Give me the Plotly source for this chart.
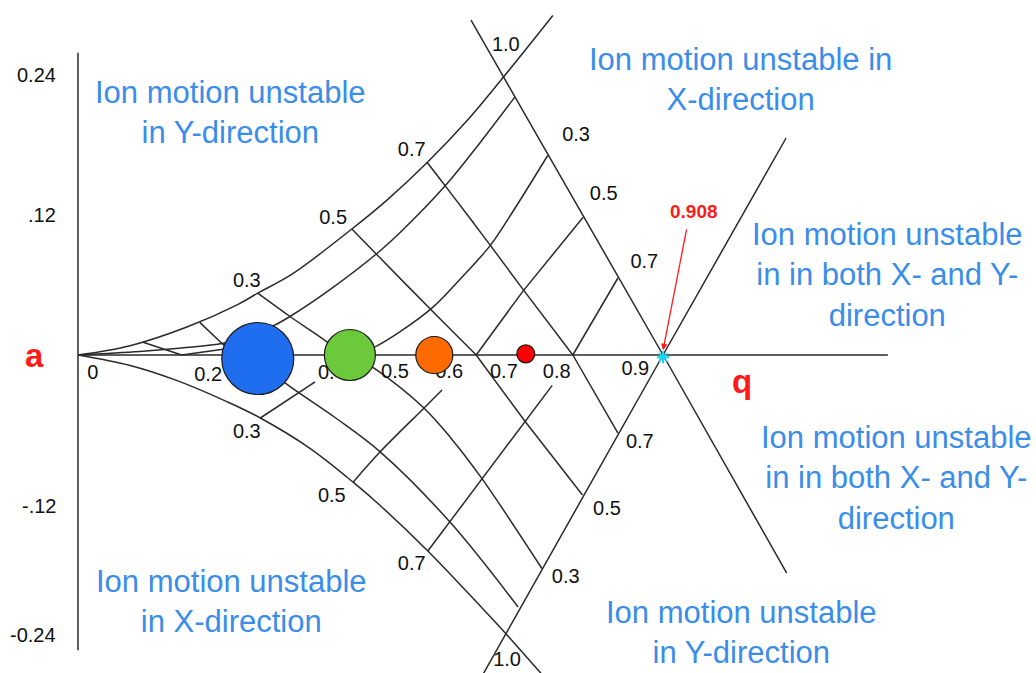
import plotly.graph_objects as go

# ---------------- data (q, a) ----------------
# outer stability boundaries
outer_up_q = [0, 0.081, 0.169, 0.247, 0.279, 0.334, 0.425, 0.480, 0.542, 0.604, 0.660, 0.737]
outer_up_a = [0, 0.008, 0.024, 0.043, 0.053, 0.070, 0.108, 0.133, 0.165, 0.201, 0.238, 0.291]
outer_lo_q = [0, 0.081, 0.154, 0.231, 0.283, 0.360, 0.427, 0.469, 0.543, 0.624, 0.661, 0.730]
outer_lo_a = [0, -0.009, -0.022, -0.040, -0.054, -0.080, -0.109, -0.129, -0.168, -0.215, -0.237, -0.280]
# the two straight beta = 1.0 boundaries crossing at q = 0.908
edge1_q = [0.610, 0.908, 1.100]
edge1_a = [0.287, 0.0, -0.187]
edge2_q = [1.099, 0.908, 0.615]
edge2_a = [0.186, 0.0, -0.287]

# upper-half iso-lines, family rising to the right
upA1_q = [0, 0.096, 0.161, 0.225, 0.267, 0.303, 0.329, 0.391, 0.464, 0.500, 0.573, 0.624, 0.678]
upA1_a = [0, 0.003, 0.006, 0.010, 0.017, 0.025, 0.033, 0.056, 0.087, 0.105, 0.147, 0.182, 0.221]
upA1b_q = [0.161, 0.225]
upA1b_a = [0.0, 0.005]
upA2_q = [0.425, 0.461, 0.500, 0.551, 0.593, 0.640, 0.675, 0.729]
upA2_a = [0.000, 0.007, 0.020, 0.041, 0.065, 0.094, 0.123, 0.171]
upA3_q = [0.618, 0.691, 0.784]
upA3_a = [0.0, 0.055, 0.118]
upA4_q = [0.768, 0.838]
upA4_a = [0.0, 0.066]
# upper-half iso-lines, family falling to the right
upB1_q = [0.101, 0.161]
upB1_a = [0.011, 0.0]
upB2_q = [0.189, 0.225, 0.251]
upB2_a = [0.028, 0.009, 0.0]
upB3_q = [0.279, 0.329, 0.387, 0.410]
upB3_a = [0.053, 0.033, 0.011, 0.0]
upB5_q = [0.425, 0.464, 0.551, 0.618]
upB5_a = [0.108, 0.086, 0.037, 0.0]
upB7_q = [0.542, 0.570, 0.640, 0.691, 0.768]
upB7_a = [0.165, 0.145, 0.094, 0.056, 0.0]

# lower-half iso-lines
loA1_q = [0.286, 0.324, 0.400, 0.469, 0.577, 0.683]
loA1_a = [-0.008, -0.025, -0.054, -0.083, -0.143, -0.216]
loA2_q = [0.425, 0.464, 0.536, 0.577, 0.627, 0.720]
loA2_a = [0.0, -0.013, -0.045, -0.070, -0.106, -0.183]
loA3_q = [0.618, 0.694, 0.783]
loA3_a = [0.0, -0.057, -0.120]
loA4_q = [0.768, 0.838]
loA4_a = [0.0, -0.067]
loB3_q = [0.283, 0.368]
loB3_a = [-0.054, -0.023]
loB5_q = [0.427, 0.469, 0.536, 0.565]
loB5_a = [-0.109, -0.083, -0.046, -0.030]
loB7_q = [0.543, 0.736]
loB7_a = [-0.168, -0.026]

# number labels on the diagram
num_text = ["0", "0.2", "0.4", "0.5", "0.6", "0.7", "0.8", "0.9",
            "0.3", "0.5", "0.7", "1.0", "0.3", "0.5", "0.7",
            "0.3", "0.5", "0.7", "1.0", "0.7", "0.5", "0.3"]
num_q = [0.023, 0.202, 0.394, 0.492, 0.576, 0.661, 0.743, 0.865,
         0.262, 0.396, 0.518, 0.664, 0.773, 0.816, 0.879,
         0.262, 0.394, 0.518, 0.666, 0.872, 0.821, 0.757]
num_a = [-0.016, -0.018, -0.016, -0.015, -0.015, -0.015, -0.015, -0.013,
         0.063, 0.117, 0.175, 0.265, 0.188, 0.137, 0.079,
         -0.067, -0.122, -0.180, -0.262, -0.075, -0.133, -0.191]

# a-axis tick labels
tick_text = ["0.24", ".12", "-.12", "-0.24"]
tick_a = [0.24, 0.12, -0.129, -0.24]

# operating points (ions)
ion_q = [0.279, 0.422, 0.553, 0.695]
ion_a = [-0.003, 0.0, 0.0, 0.001]
ion_size = [72, 51, 37, 18]
ion_color = ["#1f6ef0", "#6cc93c", "#ff6a00", "#ff0000"]

# region descriptions
region_text = ["Ion motion unstable<br>in Y-direction",
               "Ion motion unstable in<br>X-direction",
               "Ion motion unstable<br>in in both X- and Y-<br>direction",
               "Ion motion unstable<br>in in both X- and Y-<br>direction",
               "Ion motion unstable<br>in X-direction",
               "Ion motion unstable<br>in Y-direction"]
region_q = [0.236, 1.029, 1.257, 1.270, 0.238, 1.030]
region_a = [0.208, 0.236, 0.069, -0.105, -0.211, -0.238]

q_limit = 0.908

# ---------------- figure ----------------
FONT = "Liberation Sans, Arial, sans-serif"
LINE_COLOR = "#2a2a2a"
LINE_W = 1.5

fig = go.Figure()

# axes
fig.add_trace(go.Scatter(x=[0, 0], y=[0.259, -0.253], mode="lines",
                         line=dict(color=LINE_COLOR, width=LINE_W), hoverinfo="skip"))
fig.add_trace(go.Scatter(x=[0, 1.257], y=[0, 0], mode="lines",
                         line=dict(color=LINE_COLOR, width=LINE_W), hoverinfo="skip"))

curves = [
    (outer_up_q, outer_up_a), (outer_lo_q, outer_lo_a),
    (edge1_q, edge1_a), (edge2_q, edge2_a),
    (upA1_q, upA1_a), (upA1b_q, upA1b_a),
    (upA2_q, upA2_a), (upA3_q, upA3_a), (upA4_q, upA4_a),
    (upB1_q, upB1_a), (upB2_q, upB2_a), (upB3_q, upB3_a),
    (upB5_q, upB5_a), (upB7_q, upB7_a),
    (loA1_q, loA1_a), (loA2_q, loA2_a), (loA3_q, loA3_a), (loA4_q, loA4_a),
    (loB3_q, loB3_a), (loB5_q, loB5_a), (loB7_q, loB7_a),
]
for cq, ca in curves:
    shape = "spline" if len(cq) > 3 else "linear"
    fig.add_trace(go.Scatter(x=cq, y=ca, mode="lines",
                             line=dict(color=LINE_COLOR, width=LINE_W, shape=shape, smoothing=1.0),
                             hoverinfo="skip"))

# number labels (drawn below the ion circles)
fig.add_trace(go.Scatter(x=num_q, y=num_a, mode="text", text=num_text,
                         textposition="middle center",
                         textfont=dict(family=FONT, size=20, color="#111111"),
                         hoverinfo="skip"))

# ion circles
fig.add_trace(go.Scatter(x=ion_q, y=ion_a, mode="markers",
                         marker=dict(size=ion_size, color=ion_color,
                                     line=dict(color="#1a1a1a", width=1.2), opacity=1),
                         hoverinfo="skip"))

# stability limit marker
fig.add_trace(go.Scatter(x=[q_limit], y=[-0.002], mode="markers",
                         marker=dict(symbol="asterisk-open", size=10,
                                     line=dict(color="#2a64e0", width=2)),
                         hoverinfo="skip"))

annotations = []
for t, a in zip(tick_text, tick_a):
    annotations.append(dict(x=-0.031, y=a, xref="x", yref="y", text=t, showarrow=False,
                            xanchor="right", yanchor="middle",
                            font=dict(family=FONT, size=20, color="#111111")))
for t, q, a in zip(region_text, region_q, region_a):
    annotations.append(dict(x=q, y=a, xref="x", yref="y", text=t, showarrow=False,
                            xanchor="center", yanchor="middle", align="center",
                            font=dict(family=FONT, size=31, color="#3a8de8")))
annotations.append(dict(x=-0.068, y=0.0, xref="x", yref="y", text="<b>a</b>", showarrow=False,
                        xanchor="center", yanchor="middle",
                        font=dict(family=FONT, size=33, color="#ff1a1a")))
annotations.append(dict(x=1.031, y=-0.023, xref="x", yref="y", text="<b>q</b>", showarrow=False,
                        xanchor="center", yanchor="middle",
                        font=dict(family=FONT, size=33, color="#ff1a1a")))
annotations.append(dict(x=0.956, y=0.123, xref="x", yref="y", text="<b>%.3f</b>" % q_limit,
                        showarrow=False, xanchor="center", yanchor="middle",
                        font=dict(family=FONT, size=19, color="#ff1a1a")))
annotations.append(dict(x=q_limit, y=0.004, xref="x", yref="y", ax=0.945, ay=0.109,
                        axref="x", ayref="y", text="", showarrow=True,
                        arrowhead=2, arrowsize=1, arrowwidth=1.3, arrowcolor="#ff1a1a",
                        standoff=0))

fig.update_layout(
    width=1036, height=673,
    margin=dict(l=0, r=0, t=0, b=0),
    paper_bgcolor="white", plot_bgcolor="white",
    showlegend=False,
    xaxis=dict(range=[-0.12106, 1.48688], visible=False, fixedrange=True),
    yaxis=dict(range=[-0.27257, 0.30429], visible=False, fixedrange=True),
    annotations=annotations,
)

fig.write_html("out.html")
